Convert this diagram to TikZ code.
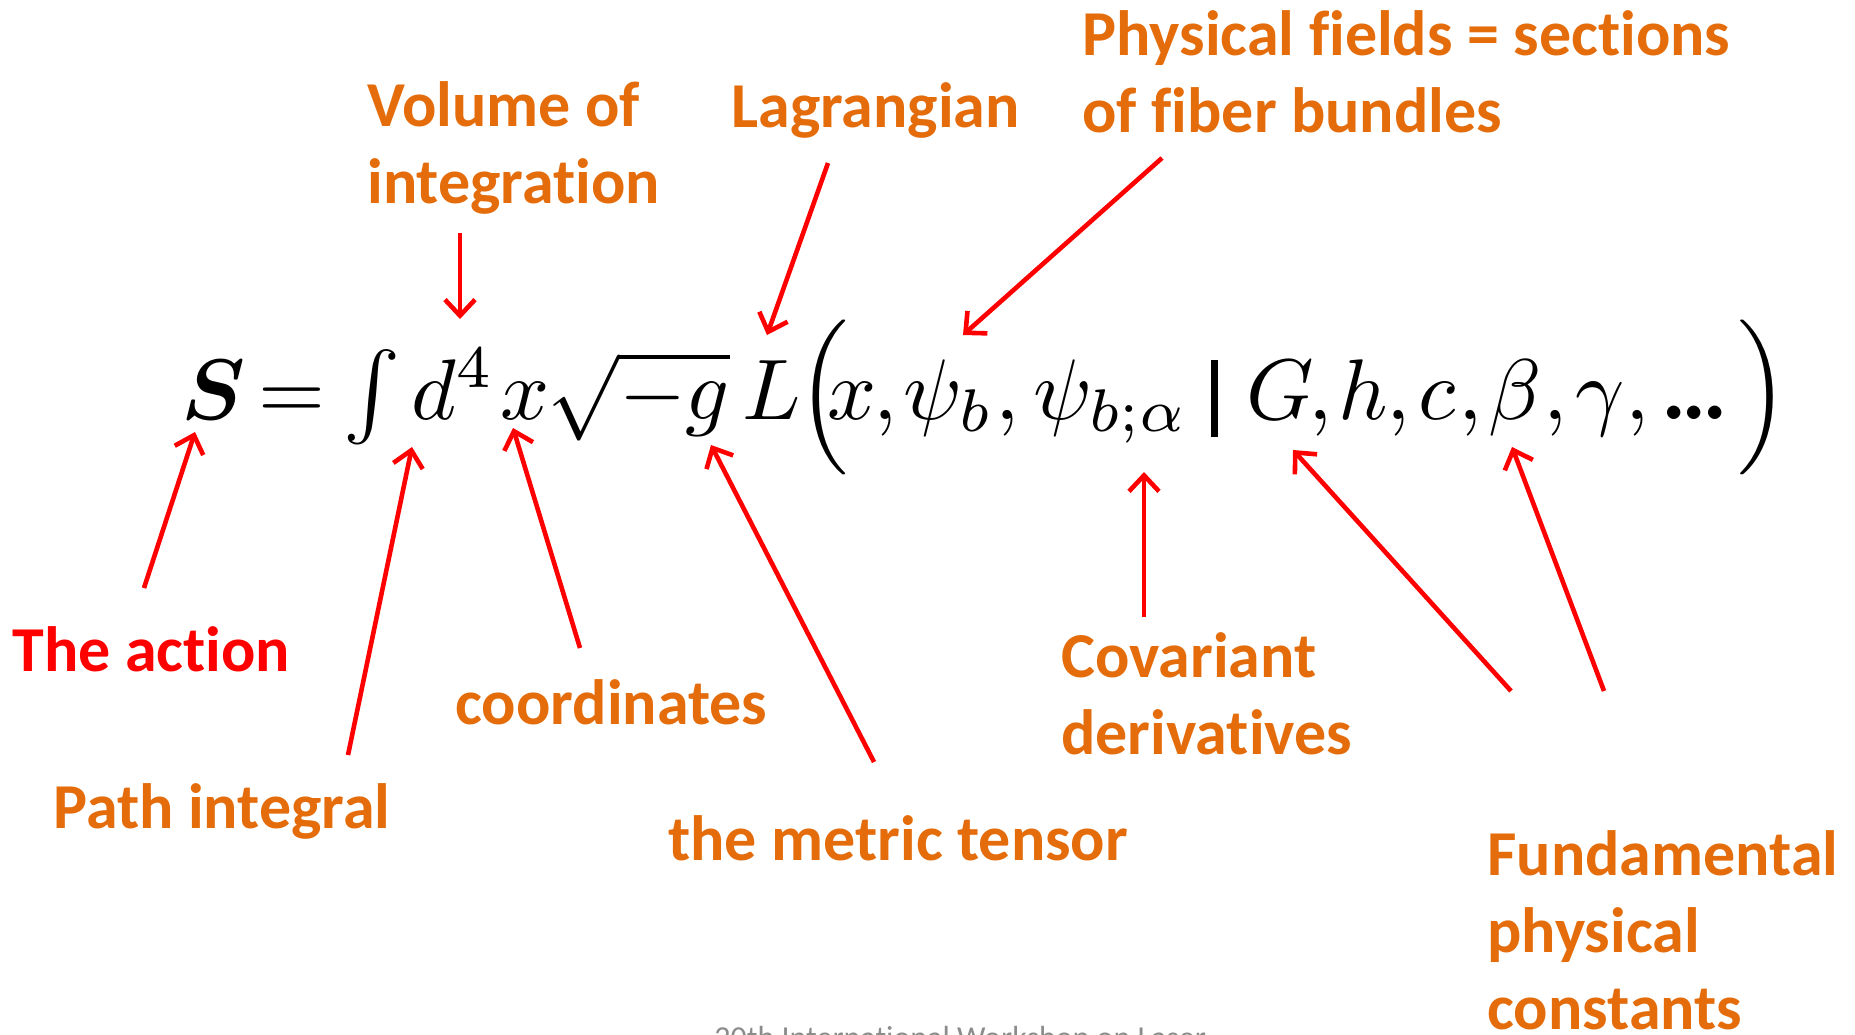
\documentclass[tikz,border=0pt]{standalone}
\usepackage{amsmath}
\usepackage{graphicx}
\usepackage[no-math]{fontspec}
\setmainfont{Carlito}[Ligatures=CommonOff]
\usetikzlibrary{arrows.meta}
\definecolor{lblorange}{RGB}{228,108,10}
\definecolor{arrowred}{RGB}{255,0,0}
\definecolor{footgray}{RGB}{140,140,140}
\newcommand{\EQ}[1]{\scalebox{4.3}{$#1$}}
\tikzset{
  lbl/.style={font=\bfseries\fontsize{32}{38.5}\selectfont, text=lblorange, inner sep=0pt, anchor=base west, align=left},
  eqp/.style={inner sep=0pt, anchor=base west},
  ptr/.style={draw=arrowred, line width=2.3pt, -{Straight Barb[length=8pt,width=15pt]}},
  foot/.style={font=\fontsize{16}{19}\selectfont, text=footgray, inner sep=0pt, anchor=base west},
}
\begin{document}
\begin{tikzpicture}[x=0.5pt,y=-0.5pt]
\useasboundingbox (0,0) rectangle (1855,1034);
\fill[white] (0,0) rectangle (1855,1034);

% equation pieces (baseline y = 419)
\node[eqp] (eS)    at (181,419)  {\EQ{\boldsymbol{S}}};
\node[eqp] (eEq)   at (258,419)  {\EQ{=}};
\node[eqp] (eInt)  at (343,419)  {\EQ{\int}};
\node[eqp] (ed)    at (411,419)  {\EQ{d^4}};
\node[eqp] (ex)    at (500,419)  {\EQ{x}};
\node[eqp] (esq)   at (547,419)  {\EQ{\sqrt{-g}}};
\node[eqp] (eL)    at (742,419)  {\EQ{L}};
\node[eqp] (elp)   at (797,419)  {\EQ{\Big(}};
\node[eqp] (ex2)   at (827,419)  {\EQ{x}};
\node[eqp] (ec1)   at (873,419)  {\EQ{,}};
\node[eqp] (epsi)  at (903,419)  {\EQ{\psi_b}};
\node[eqp] (ec2)   at (995,419)  {\EQ{,}};
\node[eqp] (epsi2) at (1033,419) {\EQ{\psi_{b;\alpha}}};
\node[eqp] (ebar)  at (1211,419) {\rule[-9pt]{3.5pt}{38.5pt}};
\node[eqp] (eG)    at (1246,419) {\EQ{G}};
\node[eqp] (ec3)   at (1308,419) {\EQ{,}};
\node[eqp] (eh)    at (1338,419) {\EQ{h}};
\node[eqp] (ec4)   at (1386,419) {\EQ{,}};
\node[eqp] (ec)    at (1418,419) {\EQ{c}};
\node[eqp] (ec5)   at (1458,419) {\EQ{,}};
\node[eqp] (ebeta) at (1488,419) {\EQ{\beta}};
\node[eqp] (ec6)   at (1543,419) {\EQ{,}};
\node[eqp] (egam)  at (1575,419) {\EQ{\gamma}};
\node[eqp] (ec7)   at (1625,419) {\EQ{,}};
\node[eqp] (edots) at (1660,419) {\EQ{\boldsymbol{.}\mkern-1.5mu\boldsymbol{.}\mkern-1.5mu\boldsymbol{.}}};
\node[eqp] (erp)   at (1737,419) {\EQ{\Big)}};

% labels (anchor = baseline of the last line)
\node[lbl] (lVol)  at (367,203)  {Volume of\\integration};
\node[lbl] (lLag)  at (731,127)  {Lagrangian};
\node[lbl] (lPhys) at (1082,132) {Physical fields = sections\\of fiber bundles};
\node[lbl, text=arrowred] (lAct) at (12,671) {The action};
\node[lbl] (lPath) at (53,828)   {Path integral};
\node[lbl] (lCoord) at (455,724) {coordinates};
\node[lbl] (lMet)  at (668,860)  {the metric tensor};
\node[lbl] (lCov)  at (1061,754) {Covariant\\derivatives};
\node[lbl] (lFund) at (1487,1029) {Fundamental\\physical\\constants};

% arrow end points
\coordinate (aVolS) at (460,233);   \coordinate (aVolE) at (460,319);
\coordinate (aLagS) at (828,163);   \coordinate (aLagE) at (767,335);
\coordinate (aPhyS) at (1162,158);  \coordinate (aPhyE) at (963,335);
\coordinate (aActS) at (144,588);   \coordinate (aActE) at (195,432);
\coordinate (aPatS) at (348,755);   \coordinate (aPatE) at (412,447);
\coordinate (aCooS) at (580,648);   \coordinate (aCooE) at (513,428);
\coordinate (aMetS) at (874,762);   \coordinate (aMetE) at (711,445);
\coordinate (aCovS) at (1144,617);  \coordinate (aCovE) at (1144,472);
\coordinate (aGS)   at (1511,691);  \coordinate (aGE)   at (1293,450);
\coordinate (aBetS) at (1604,691);  \coordinate (aBetE) at (1512,447);

\draw[ptr] (aVolS) -- (aVolE);
\draw[ptr] (aLagS) -- (aLagE);
\draw[ptr] (aPhyS) -- (aPhyE);
\draw[ptr] (aActS) -- (aActE);
\draw[ptr] (aPatS) -- (aPatE);
\draw[ptr] (aCooS) -- (aCooE);
\draw[ptr] (aMetS) -- (aMetE);
\draw[ptr] (aCovS) -- (aCovE);
\draw[ptr] (aGS) -- (aGE);
\draw[ptr] (aBetS) -- (aBetE);

% cut-off footer
\begin{scope}
\clip (0,0) rectangle (1855,1034);
\node[foot] (footer) at (714,1048) {20th International Workshop on Laser};
\end{scope}
\end{tikzpicture}
\end{document}
